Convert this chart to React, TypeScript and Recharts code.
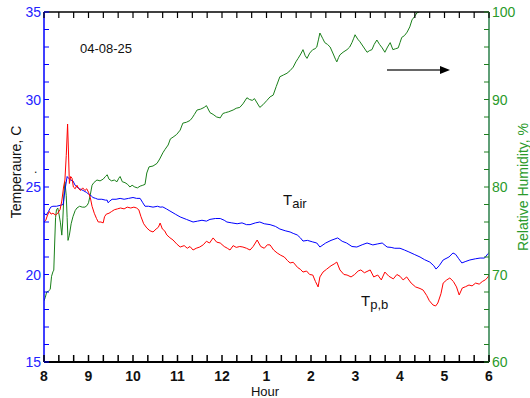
import { ComposedChart, Line, XAxis, YAxis } from 'recharts';

const FONT = '"Liberation Sans", Arial, sans-serif';

// x axis: clock hours 8 am .. 6 pm
const majorHours = [8, 9, 10, 11, 12, 13, 14, 15, 16, 17, 18];
const hourLabels = ['8', '9', '10', '11', '12', '1', '2', '3', '4', '5', '6'];
const tempTicks = [15, 20, 25, 30, 35];
const rhTicks = [60, 70, 80, 90, 100];

// Tair (blue)
const tairHours = [
  8.0, 8.05, 8.1, 8.15, 8.2, 8.28, 8.36, 8.43, 8.47, 8.52, 8.55, 8.6, 8.65, 8.7, 8.74, 8.8, 8.88, 8.95, 9.0,
  9.06, 9.1, 9.16, 9.21, 9.3, 9.38, 9.42, 9.44, 9.48, 9.53, 9.62, 9.71, 9.8, 9.9, 10.0, 10.08, 10.16, 10.22,
  10.27, 10.35, 10.45, 10.55, 10.61, 10.67, 10.75, 10.83, 10.95, 11.06, 11.2, 11.35, 11.45, 11.55, 11.65,
  11.73, 11.85, 11.96, 12.05, 12.11, 12.22, 12.34, 12.45, 12.55, 12.63, 12.75, 12.85, 12.95, 13.08, 13.2,
  13.3, 13.42, 13.53, 13.6, 13.69, 13.76, 13.82, 13.92, 14.04, 14.13, 14.2, 14.33, 14.45, 14.6, 14.7, 14.8,
  14.92, 15.03, 15.15, 15.26, 15.39, 15.5, 15.6, 15.71, 15.8, 15.88, 16.0, 16.1, 16.2, 16.32, 16.45, 16.55,
  16.67, 16.76, 16.81, 16.88, 16.97, 17.1, 17.19, 17.25, 17.32, 17.39, 17.48, 17.57, 17.7, 17.8, 17.9,
  17.98, 18.0,
];
const tairValues = [
  23.5, 23.4, 23.6, 23.85, 23.9, 23.9, 23.95, 24.0, 24.8, 25.6, 25.5, 25.4, 25.35, 25.1, 25.0, 24.9, 24.8,
  24.7, 24.6, 24.5, 24.4, 24.35, 24.3, 24.3, 24.25, 24.25, 24.1, 24.2, 24.3, 24.3, 24.35, 24.3, 24.35, 24.4,
  24.35, 24.35, 24.1, 23.9, 23.9, 23.85, 23.9, 23.85, 23.86, 23.75, 23.63, 23.45, 23.29, 23.15, 23.0, 23.05,
  23.1, 23.05, 23.15, 23.2, 23.2, 23.1, 23.0, 22.95, 22.9, 22.95, 22.85, 22.85, 22.95, 23.0, 22.9, 22.85,
  22.75, 22.6, 22.5, 22.43, 22.35, 22.26, 22.1, 21.91, 21.95, 21.86, 21.8, 21.57, 21.8, 21.95, 22.09, 21.9,
  21.8, 21.6, 21.57, 21.7, 21.8, 21.69, 21.75, 21.8, 21.57, 21.55, 21.5, 21.5, 21.4, 21.29, 21.15, 21.0,
  20.85, 20.71, 20.5, 20.31, 20.5, 20.83, 21.0, 21.23, 21.15, 20.9, 20.66, 20.75, 20.83, 20.9, 20.94, 20.94,
  21.2, 21.25,
];

// Tp,b (red)
const tpbHours = [
  8.0, 8.04, 8.08, 8.12, 8.16, 8.2, 8.26, 8.31, 8.36, 8.4, 8.44, 8.47, 8.5, 8.53, 8.55, 8.57, 8.6, 8.63, 8.66,
  8.7, 8.74, 8.78, 8.82, 8.87, 8.92, 8.96, 9.0, 9.04, 9.08, 9.13, 9.18, 9.22, 9.28, 9.33, 9.36, 9.4, 9.46,
  9.52, 9.58, 9.65, 9.72, 9.8, 9.87, 9.95, 10.02, 10.08, 10.13, 10.18, 10.24, 10.31, 10.38, 10.45, 10.52,
  10.57, 10.61, 10.66, 10.71, 10.76, 10.83, 10.9, 10.98, 11.06, 11.15, 11.22, 11.28, 11.35, 11.42, 11.5,
  11.58, 11.65, 11.72, 11.8, 11.88, 11.96, 12.05, 12.12, 12.18, 12.25, 12.32, 12.4, 12.47, 12.55, 12.63,
  12.7, 12.79, 12.87, 12.95, 13.02, 13.08, 13.16, 13.24, 13.32, 13.4, 13.47, 13.53, 13.6, 13.7, 13.76,
  13.82, 13.9, 13.97, 14.04, 14.1, 14.16, 14.2, 14.27, 14.35, 14.45, 14.52, 14.58, 14.65, 14.74, 14.81,
  14.9, 14.98, 15.06, 15.12, 15.2, 15.33, 15.41, 15.5, 15.58, 15.66, 15.75, 15.85, 15.93, 16.0, 16.07,
  16.15, 16.25, 16.35, 16.45, 16.52, 16.6, 16.66, 16.74, 16.8, 16.85, 16.92, 16.97, 17.05, 17.12, 17.2,
  17.27, 17.33, 17.4, 17.47, 17.55, 17.62, 17.7, 17.78, 17.85, 17.92, 17.98, 18.0,
];
const tpbValues = [
  23.0, 23.1, 23.4, 23.6, 23.45, 23.5, 23.4, 23.5, 23.7, 24.2, 25.0, 25.4, 26.8, 28.6, 27.0, 25.2, 25.6,
  25.5, 25.0, 24.9, 25.1, 24.9, 24.8, 24.95, 24.8, 24.9, 24.7, 24.4, 23.9, 23.5, 23.2, 23.0, 23.0, 22.95,
  23.3, 23.45, 23.5, 23.6, 23.7, 23.75, 23.8, 23.75, 23.85, 23.8, 23.85, 23.8, 23.7, 23.3, 22.9, 22.66,
  22.5, 22.43, 22.6, 22.7, 22.94, 22.6, 22.5, 22.26, 22.1, 21.97, 21.75, 21.57, 21.65, 21.5, 21.6, 21.4,
  21.5, 21.57, 21.7, 21.9, 21.8, 22.09, 21.85, 21.8, 21.6, 21.5, 21.4, 21.65, 21.55, 21.6, 21.57, 21.5,
  21.4, 21.6, 21.97, 21.6, 21.5, 21.7, 21.69, 21.4, 21.23, 21.1, 21.0, 20.8, 20.66, 20.7, 20.4, 20.3, 20.14,
  20.2, 20.0, 19.97, 19.6, 19.29, 19.86, 20.14, 20.3, 20.5, 20.6, 20.71, 20.26, 20.0, 19.97, 19.86, 20.0,
  20.2, 20.26, 20.1, 20.26, 19.86, 19.97, 19.69, 20.14, 19.9, 19.75, 20.0, 19.9, 19.69, 19.86, 19.51,
  19.29, 19.2, 19.11, 18.8, 18.5, 18.26, 18.2, 18.37, 18.9, 19.51, 19.69, 19.8, 19.6, 19.29, 18.83, 19.23,
  19.3, 19.4, 19.35, 19.51, 19.45, 19.6, 19.7, 19.86, 20.0,
];

// Relative humidity (green, right axis)
const rhHours = [
  8.0, 8.03, 8.06, 8.1, 8.14, 8.17, 8.2, 8.22, 8.24, 8.26, 8.28, 8.31, 8.34, 8.37, 8.4, 8.42, 8.45, 8.47,
  8.5, 8.52, 8.54, 8.57, 8.61, 8.65, 8.7, 8.74, 8.8, 8.86, 8.92, 8.97, 9.0, 9.04, 9.08, 9.12, 9.19, 9.26,
  9.33, 9.38, 9.42, 9.46, 9.52, 9.58, 9.64, 9.68, 9.71, 9.76, 9.82, 9.88, 9.93, 9.98, 10.04, 10.1, 10.16,
  10.22, 10.27, 10.31, 10.36, 10.45, 10.54, 10.6, 10.67, 10.72, 10.79, 10.84, 10.9, 10.98, 11.06, 11.12,
  11.2, 11.28, 11.33, 11.38, 11.44, 11.52, 11.6, 11.65, 11.73, 11.8, 11.88, 11.96, 12.02, 12.08, 12.15,
  12.25, 12.32, 12.4, 12.47, 12.56, 12.62, 12.68, 12.73, 12.79, 12.85, 12.92, 13.01, 13.08, 13.15, 13.22,
  13.3, 13.38, 13.46, 13.53, 13.6, 13.66, 13.71, 13.77, 13.82, 13.87, 13.91, 13.97, 14.04, 14.09, 14.13,
  14.17, 14.2, 14.26, 14.31, 14.37, 14.43, 14.5, 14.55, 14.58, 14.62, 14.65, 14.72, 14.81, 14.87, 14.92,
  14.96, 14.99, 15.05, 15.1, 15.18, 15.26, 15.32, 15.37, 15.42, 15.48, 15.54, 15.6, 15.66, 15.72, 15.78,
  15.84, 15.9, 15.96, 16.0, 16.04, 16.1, 16.16, 16.22, 16.27, 16.33, 16.38, 16.43,
];
const rhValues = [
  67.0, 67.4, 68.0, 68.1, 68.3, 69.8, 70.3, 70.5, 73.6, 76.5, 77.4, 77.6, 76.8, 75.9, 74.5, 76.0, 79.3,
  80.6, 79.0, 76.5, 73.9, 74.5, 75.8, 76.6, 77.3, 77.6, 77.8, 77.7, 77.7, 77.9, 78.2, 79.1, 80.2, 80.5,
  80.8, 80.7, 80.9, 81.2, 81.4, 80.9, 80.7, 80.8, 80.6, 81.0, 81.2, 80.6, 80.5, 80.3, 80.0, 80.2, 80.0,
  79.9, 80.1, 80.2, 80.3, 81.6, 82.3, 82.4, 82.7, 83.2, 83.9, 84.3, 84.8, 85.5, 85.7, 86.0, 86.5, 87.3,
  87.4, 87.6, 87.9, 88.3, 88.8, 88.9, 89.1, 89.3, 88.5, 88.3, 88.0, 87.9, 88.4, 88.5, 88.6, 88.8, 89.0,
  89.1, 89.5, 90.2, 90.0, 89.9, 90.1, 89.6, 89.1, 89.4, 89.9, 90.3, 90.5, 91.5, 92.6, 92.8, 93.0, 93.3,
  93.7, 94.3, 94.7, 95.2, 95.7, 95.0, 94.7, 95.3, 95.7, 95.8, 96.0, 96.9, 97.6, 97.0, 96.5, 96.3, 96.0,
  95.2, 94.6, 94.3, 94.8, 95.1, 95.4, 95.7, 96.0, 96.5, 97.0, 97.4, 96.9, 96.6, 96.0, 95.4, 95.6, 95.7,
  96.3, 96.8, 96.3, 95.9, 95.4, 96.0, 96.5, 95.7, 95.8, 95.9, 96.5, 97.1, 97.3, 97.7, 98.3, 99.1, 99.5,
  99.9, 100.0,
];

const zip = (hs: number[], vs: number[]) => hs.map((h, i) => ({ h, v: vs[i] }));
const tairData = zip(tairHours, tairValues);
const tpbData = zip(tpbHours, tpbValues);
const rhData = zip(rhHours, rhValues);

// minor ticks every 20 min, every 1 C / 2 %
const hourTicks = majorHours.slice(0, -1).flatMap((h) => [h, h + 1 / 3, h + 2 / 3]).concat([18]);
const tempMinor = Array.from({ length: 21 }, (_, i) => 15 + i);
const rhMinor = Array.from({ length: 21 }, (_, i) => 60 + i * 2);

const isMajor = (v: number) => Math.abs(v - Math.round(v)) < 1e-6;

function BottomTick(props: any) {
  const { x, y, payload } = props;
  const v = payload.value;
  const idx = majorHours.indexOf(Math.round(v));
  return (
    <g>
      <line x1={x} x2={x} y1={y} y2={y - 7} stroke="#000" strokeWidth={1.5} />
      {isMajor(v) && idx >= 0 && (
        <text x={x} y={y + 19} textAnchor="middle" fontSize={14} fontWeight="bold" fill="#111" fontFamily={FONT}>
          {hourLabels[idx]}
        </text>
      )}
    </g>
  );
}

function TopTick(props: any) {
  const { x, y } = props;
  return <line x1={x} x2={x} y1={y} y2={y + 6} stroke="#000" strokeWidth={1.2} />;
}

function LeftTick(props: any) {
  const { x, y, payload } = props;
  const v = payload.value;
  return (
    <g>
      <line x1={x} x2={x + 5} y1={y} y2={y} stroke="#0000ff" strokeWidth={1} />
      {tempTicks.includes(v) && (
        <text x={x - 3} y={y + 5} textAnchor="end" fontSize={14} fill="#2222ff" fontFamily={FONT}>
          {v}
        </text>
      )}
    </g>
  );
}

function RightTick(props: any) {
  const { x, y, payload } = props;
  const v = payload.value;
  return (
    <g>
      <line x1={x} x2={x - 5} y1={y} y2={y} stroke="#1e7e1e" strokeWidth={1} />
      {rhTicks.includes(v) && (
        <text x={x + 3} y={y + 5} textAnchor="start" fontSize={14} fill="#2a9a2a" fontFamily={FONT}>
          {v}
        </text>
      )}
    </g>
  );
}

export default function App() {
  return (
    <div style={{ position: 'absolute', left: 0, top: 0, width: 530, height: 398, background: '#fff' }}>
      <ComposedChart width={530} height={398} margin={{ top: 0, right: 0, bottom: 0, left: 0 }}>
        <XAxis
          xAxisId="bottom"
          dataKey="h"
          type="number"
          domain={[8, 18]}
          ticks={hourTicks}
          allowDataOverflow
          height={36}
          tickSize={0}
          tickMargin={0}
          tick={<BottomTick />}
          axisLine={{ stroke: '#000', strokeWidth: 2 }}
          interval={0}
        />
        <XAxis
          xAxisId="top"
          orientation="top"
          dataKey="h"
          type="number"
          domain={[8, 18]}
          ticks={hourTicks}
          allowDataOverflow
          height={12}
          tickSize={0}
          tickMargin={0}
          tick={<TopTick />}
          axisLine={{ stroke: '#000', strokeWidth: 1.5 }}
          interval={0}
        />
        <YAxis
          yAxisId="left"
          type="number"
          domain={[15, 35]}
          ticks={tempMinor}
          allowDataOverflow
          width={44}
          tickSize={0}
          tickMargin={0}
          tick={<LeftTick />}
          axisLine={{ stroke: '#0000ff', strokeWidth: 1.5 }}
          interval={0}
        />
        <YAxis
          yAxisId="right"
          orientation="right"
          type="number"
          domain={[60, 100]}
          ticks={rhMinor}
          allowDataOverflow
          width={41}
          tickSize={0}
          tickMargin={0}
          tick={<RightTick />}
          axisLine={{ stroke: '#2a7f4a', strokeWidth: 1.5 }}
          interval={0}
        />
        <Line
          data={rhData}
          xAxisId="top"
          yAxisId="right"
          dataKey="v"
          type="linear"
          stroke="#1a801a"
          strokeWidth={1}
          dot={false}
          isAnimationActive={false}
        />
        <Line
          data={tairData}
          xAxisId="bottom"
          yAxisId="left"
          dataKey="v"
          type="linear"
          stroke="#0000ff"
          strokeWidth={1}
          dot={false}
          isAnimationActive={false}
        />
        <Line
          data={tpbData}
          xAxisId="bottom"
          yAxisId="left"
          dataKey="v"
          type="linear"
          stroke="#ff0000"
          strokeWidth={1}
          dot={false}
          isAnimationActive={false}
        />
      </ComposedChart>

      <svg
        width={530}
        height={398}
        style={{ position: 'absolute', left: 0, top: 0, pointerEvents: 'none' }}
        fontFamily={FONT}
      >
        <text x={80} y={53} fontSize={13} fill="#111">04-08-25</text>
        <text x={283} y={205} fontSize={15} fill="#111">
          T<tspan fontSize={13} dy={3}>air</tspan>
        </text>
        <text x={361} y={306} fontSize={15} fill="#111">
          T<tspan fontSize={13} dy={3}>p,b</tspan>
        </text>
        <line x1={387} y1={70} x2={442} y2={70} stroke="#333" strokeWidth={1.5} />
        <polygon points="450,70 440,66 440,74" fill="#000" />
        <text x={265} y={396} textAnchor="middle" fontSize={13} fill="#111">Hour</text>
        <text transform="translate(21,172) rotate(-90)" textAnchor="middle" fontSize={14} fill="#111">
          Temperaure, C
        </text>
        <text x={34} y={173} fontSize={12} fill="#111">.</text>
        <text transform="translate(528,187) rotate(-90)" textAnchor="middle" fontSize={14} fill="#2a9a2a">
          Relative Humidity, %
        </text>
      </svg>
    </div>
  );
}
